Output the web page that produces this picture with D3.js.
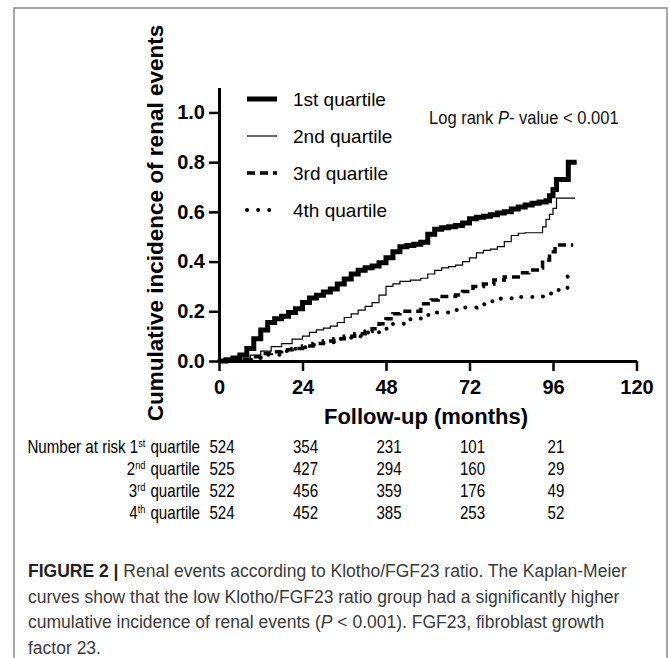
<!DOCTYPE html>
<html>
<head>
<meta charset="utf-8">
<script src="https://cdn.jsdelivr.net/npm/d3@7"></script>
<style>
  body { margin: 0; background: #fff; }
  text { font-family: "Liberation Sans", Arial, sans-serif; }
</style>
</head>
<body>
<script>
"use strict";
var width = 669;
var height = 658;

// Kaplan-Meier curves: [month, cumulative incidence]
var q1Curve = [[0,0],[2,0.005],[4,0.012],[6,0.024],[8,0.05],[10,0.09],[12,0.125],[14,0.155],[16,0.17],[18,0.18],[20,0.195],[22,0.21],[24,0.235],[26,0.253],[28,0.265],[30,0.278],[32,0.29],[34,0.31],[36,0.33],[38,0.35],[40,0.365],[42,0.375],[44,0.382],[46,0.395],[48,0.415],[50,0.44],[52,0.46],[54,0.465],[56,0.47],[58,0.478],[60,0.51],[62,0.53],[64,0.536],[66,0.54],[68,0.545],[70,0.555],[72,0.572],[74,0.578],[76,0.582],[78,0.588],[80,0.595],[82,0.6],[84,0.612],[86,0.62],[88,0.628],[90,0.635],[92,0.64],[94,0.645],[95,0.665],[96,0.69],[97,0.73],[100.4,0.8],[102.8,0.8]];
var q2Curve = [[0,0],[4,0.003],[7,0.012],[9,0.024],[12,0.04],[15,0.058],[18,0.07],[21,0.088],[24,0.1],[26,0.115],[28,0.125],[30,0.132],[32,0.14],[34,0.155],[36,0.175],[38,0.19],[40,0.205],[42,0.22],[44,0.235],[46,0.265],[48,0.3],[50,0.31],[52,0.32],[55,0.325],[58,0.333],[60,0.35],[62,0.365],[64,0.375],[66,0.38],[68,0.386],[70,0.4],[72,0.415],[74,0.435],[76,0.445],[78,0.45],[80,0.46],[82,0.48],[84,0.505],[86,0.514],[88,0.516],[92,0.516],[93,0.54],[94,0.57],[95,0.59],[96,0.614],[97,0.655],[102.3,0.655]];
var q3Curve = [[0,0],[5,0.005],[9,0.017],[12,0.03],[15,0.037],[18,0.045],[21,0.05],[24,0.06],[27,0.07],[30,0.08],[33,0.09],[36,0.1],[39,0.11],[42,0.12],[44,0.13],[46,0.15],[48,0.17],[50,0.19],[52,0.2],[56,0.2],[58,0.23],[61,0.245],[63,0.26],[68,0.266],[70,0.28],[73,0.3],[76,0.31],[79,0.326],[82,0.338],[86,0.355],[89,0.366],[92,0.374],[93,0.406],[95,0.44],[96.6,0.467],[101.8,0.467]];
var q4Curve = [[0,0],[6,0.005],[10,0.012],[14,0.025],[18,0.04],[22,0.055],[26,0.065],[30,0.075],[34,0.09],[38,0.1],[42,0.115],[46,0.13],[50,0.15],[54,0.168],[58,0.185],[62,0.195],[66,0.205],[70,0.215],[74,0.228],[78,0.24],[81,0.252],[86,0.258],[92,0.26],[94,0.272],[97,0.286],[100,0.295],[100.2,0.342]];

var seriesNames = ["1st quartile", "2nd quartile", "3rd quartile", "4th quartile"];
var xTicks = [0, 24, 48, 72, 96, 120];
var yTicks = [0, 0.2, 0.4, 0.6, 0.8, 1.0];

// number at risk table
var riskTimes = [0, 24, 48, 72, 96];
var riskQ1 = [524, 354, 231, 101, 21];
var riskQ2 = [525, 427, 294, 160, 29];
var riskQ3 = [522, 456, 359, 176, 49];
var riskQ4 = [524, 452, 385, 253, 52];
var ordinals = [["1", "st"], ["2", "nd"], ["3", "rd"], ["4", "th"]];

var captionLines = [
  [["FIGURE 2 |", "bold"], [" Renal events according to Klotho/FGF23 ratio. The Kaplan-Meier", ""]],
  [["curves show that the low Klotho/FGF23 ratio group had a significantly higher", ""]],
  [["cumulative incidence of renal events (", ""], ["P", "italic"], [" < 0.001). FGF23, fibroblast growth", ""]],
  [["factor 23.", ""]]
];

// line style per quartile
var styles = [
  {w: 5, dash: null, cap: "butt"},
  {w: 1.2, dash: null, cap: "butt"},
  {w: 3.5, dash: "8,5", cap: "butt"},
  {w: 4, dash: "0.1,11", cap: "round"}
];

// no narrow font installed, so squeeze Liberation Sans sideways
var squeeze = 0.84;

var svg = d3.select("body").append("svg")
  .attr("width", width)
  .attr("height", height);

svg.append("rect")
  .attr("x", 14).attr("y", 8)
  .attr("width", 653).attr("height", 700)
  .attr("fill", "none")
  .attr("stroke", "#8a8a8a")
  .attr("stroke-width", 1.5);

var x = d3.scaleLinear().domain([0, 120]).range([219, 636.5]);
var y = d3.scaleLinear().domain([0, 1.1]).range([361, 87.6]);

//////// axes ////////
var yAxis = svg.append("g")
  .attr("transform", "translate(" + x(0) + ",0)")
  .call(d3.axisLeft(y).tickValues(yTicks).tickFormat(d3.format(".1f")).tickSize(10).tickSizeOuter(0).tickPadding(4));

var xAxis = svg.append("g")
  .attr("transform", "translate(0," + y(0) + ")")
  .call(d3.axisBottom(x).tickValues(xTicks).tickSize(10).tickSizeOuter(0).tickPadding(9));

[yAxis, xAxis].forEach(function(g) {
  g.select(".domain").attr("stroke", "#000").attr("stroke-width", 3);
  g.selectAll(".tick line").attr("stroke", "#000").attr("stroke-width", 2.5);
  g.selectAll(".tick text")
    .attr("fill", "#000")
    .style("font-family", "'Liberation Sans', Arial, sans-serif")
    .style("font-size", "20px")
    .style("font-weight", "bold");
});

svg.append("text")
  .attr("transform", "translate(163,223) rotate(-90)")
  .attr("text-anchor", "middle")
  .style("font-size", "22.5px")
  .style("font-weight", "bold")
  .text("Cumulative incidence of renal events");

svg.append("text")
  .attr("x", 426).attr("y", 424)
  .attr("text-anchor", "middle")
  .style("font-size", "22px")
  .style("font-weight", "bold")
  .text("Follow-up (months)");

//////// curves ////////
var line = d3.line()
  .x(function(d) { return x(d[0]); })
  .y(function(d) { return y(d[1]); })
  .curve(d3.curveStepAfter);

[q1Curve, q2Curve, q3Curve, q4Curve].forEach(function(curve, i) {
  svg.append("path")
    .datum(curve)
    .attr("d", line)
    .attr("fill", "none")
    .attr("stroke", "#000")
    .attr("stroke-width", styles[i].w)
    .attr("stroke-dasharray", styles[i].dash)
    .attr("stroke-linecap", styles[i].cap);
});

//////// legend ////////
var legendY = [99, 136, 173, 210];
seriesNames.forEach(function(name, i) {
  svg.append("line")
    .attr("x1", 247).attr("x2", 277)
    .attr("y1", legendY[i]).attr("y2", legendY[i])
    .attr("stroke", "#000")
    .attr("stroke-width", styles[i].w)
    .attr("stroke-dasharray", styles[i].dash)
    .attr("stroke-linecap", styles[i].cap);
  svg.append("text")
    .attr("x", 293).attr("y", legendY[i] + 7)
    .style("font-size", "19px")
    .text(name);
});

var logRank = svg.append("text")
  .attr("transform", "translate(429,124) scale(0.87,1)")
  .style("font-size", "19px")
  .attr("fill", "#111");
logRank.append("tspan").text("Log rank ");
logRank.append("tspan").style("font-style", "italic").text("P");
logRank.append("tspan").text("- value < 0.001");

//////// number at risk ////////
var rowY = [453, 475, 497, 519];
[riskQ1, riskQ2, riskQ3, riskQ4].forEach(function(row, i) {
  var lbl = svg.append("text")
    .attr("transform", "translate(200," + rowY[i] + ") scale(" + squeeze + ",1)")
    .attr("text-anchor", "end")
    .style("font-size", "18px");
  lbl.append("tspan").text((i === 0 ? "Number at risk " : "") + ordinals[i][0]);
  lbl.append("tspan").attr("dy", -6).style("font-size", "11px").text(ordinals[i][1]);
  lbl.append("tspan").attr("dy", 6).attr("dx", 6).text("quartile");

  svg.selectAll(null)
    .data(row)
    .enter().append("text")
    .attr("transform", function(d, j) {
      return "translate(" + (x(riskTimes[j]) + 3) + "," + rowY[i] + ") scale(" + squeeze + ",1)";
    })
    .attr("text-anchor", "middle")
    .style("font-size", "18px")
    .text(function(d) { return d; });
});

//////// caption ////////
captionLines.forEach(function(parts, i) {
  var t = svg.append("text")
    .attr("x", 28).attr("y", 577 + i * 25.5)
    .attr("fill", "#3a3a3a")
    .style("font-size", "17.5px");
  parts.forEach(function(p) {
    var s = t.append("tspan").text(p[0]);
    if (p[1] === "bold") s.style("font-weight", "bold").attr("fill", "#222");
    if (p[1] === "italic") s.style("font-style", "italic");
  });
});
</script>
</body>
</html>
